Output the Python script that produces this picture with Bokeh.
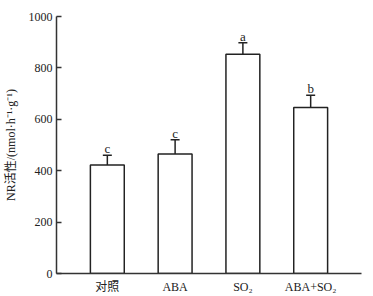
from bokeh.plotting import figure
from bokeh.models import FactorRange, ColumnDataSource, Whisker, TeeHead, FixedTicker
from bokeh.core.properties import value
from bokeh.embed import file_html
from bokeh.resources import INLINE

categories = ["对照", "ABA", "SO₂", "ABA+SO₂"]
means = [422, 465, 853, 646]
errors = [38, 55, 45, 48]
letters = ["c", "c", "a", "b"]
y_ticks = [0, 200, 400, 600, 800, 1000]

upper = [m + e for m, e in zip(means, errors)]
src = ColumnDataSource(dict(cat=categories, mean=means, upper=upper, letter=letters))

FONT = "Liberation Serif, Noto Sans CJK SC"

p = figure(x_range=FactorRange(factors=categories, range_padding=0.125),
           y_range=(0, 1000), frame_width=305, frame_height=257,
           min_border_left=56, min_border_top=16, min_border_right=2, min_border_bottom=4,
           output_backend="svg", toolbar_location=None)
p.outline_line_color = None
p.grid.grid_line_color = None

p.vbar(x="cat", top="mean", width=0.5, source=src, fill_color="white",
       line_color="#222222", line_width=1.5)

w = Whisker(base="cat", lower="mean", upper="upper", source=src,
            line_color="#222222", line_width=1.5,
            upper_head=TeeHead(size=9, line_color="#222222", line_width=1.5),
            lower_head=None)
p.add_layout(w)

p.text(x="cat", y="upper", text="letter", source=src, text_align="center",
       text_baseline="bottom", text_font=value(FONT), text_font_size="13px",
       text_color="#222222", y_offset=1)

p.yaxis.ticker = FixedTicker(ticks=y_ticks)
p.yaxis.minor_tick_line_color = None
p.yaxis.major_tick_in = 5
p.yaxis.major_tick_out = 0
p.yaxis.major_label_standoff = 4
p.yaxis.axis_label = "NR活性/(nmol·h⁻¹·g⁻¹)"
p.yaxis.axis_label_text_font = FONT
p.yaxis.axis_label_text_font_style = "normal"
p.yaxis.axis_label_text_font_size = "12px"
p.yaxis.axis_label_standoff = 8

p.xaxis.major_tick_line_color = None
p.xaxis.major_label_standoff = 0

for ax in (p.xaxis, p.yaxis):
    ax.axis_line_color = "#333333"
    ax.axis_line_width = 1.5
    ax.major_tick_line_width = 1.5
    ax.major_label_text_font = FONT
    ax.major_label_text_font_size = "12px"
    ax.major_label_text_color = "#222222"
    ax.axis_label_text_color = "#222222"
p.yaxis.major_tick_line_color = "#333333"

open("out.html", "w").write(file_html(p, INLINE))
